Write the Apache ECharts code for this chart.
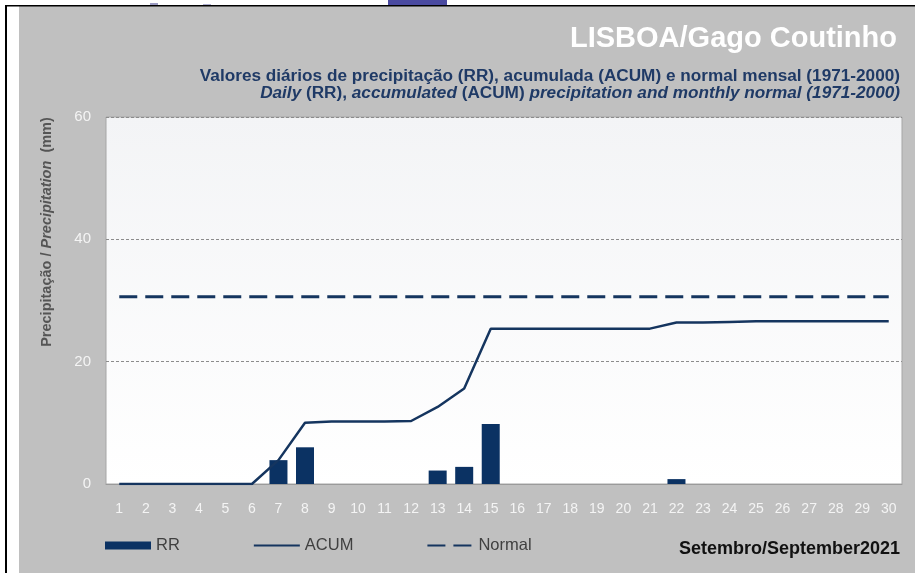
<!DOCTYPE html>
<html>
<head>
<meta charset="utf-8">
<script src="https://cdn.jsdelivr.net/npm/echarts@6/dist/echarts.min.js"></script>
<style>
  html, body { margin: 0; padding: 0; background: #ffffff; }
  #chart { width: 915px; height: 573px; }
</style>
</head>
<body>
<div id="chart"></div>
<script>
// dias do mes
var days = [];
for (var d = 1; d <= 30; d++) days.push(String(d));

// precipitacao diaria (mm)
var rrValues = [null, null, null, null, null, null, 3.9, 6.0, null, null,
                null, null, 2.2, 2.8, 9.8, null, null, null, null, null,
                null, 0.8, null, null, null, null, null, null, null, null];
// acumulada (mm)
var acumValues = [0, 0, 0, 0, 0, 0, 3.9, 10.0, 10.2, 10.2,
                  10.2, 10.3, 12.6, 15.6, 25.4, 25.4, 25.4, 25.4, 25.4, 25.4,
                  25.4, 26.4, 26.4, 26.5, 26.6, 26.6, 26.6, 26.6, 26.6, 26.6];
// normal mensal 1971-2000
var normalValues = [30.6, 30.6, 30.6, 30.6, 30.6, 30.6, 30.6, 30.6, 30.6, 30.6,
                    30.6, 30.6, 30.6, 30.6, 30.6, 30.6, 30.6, 30.6, 30.6, 30.6,
                    30.6, 30.6, 30.6, 30.6, 30.6, 30.6, 30.6, 30.6, 30.6, 30.6];
var yTicks = [0, 20, 40, 60];

var navy = "#0b3263";
var font = "'Liberation Sans', Arial, sans-serif";

var chart = echarts.init(document.getElementById("chart"));

var option = {
    backgroundColor: "#ffffff",
    animation: false,
    textStyle: { fontFamily: font },
    title: [{
        text: "LISBOA/Gago Coutinho",
        right: 13,
        top: 19,
        textStyle: { color: "#ffffff", fontSize: 29, fontWeight: "bold", fontFamily: font }
    }, {
        text: "Valores diários de precipitação (RR), acumulada (ACUM) e normal mensal (1971-2000)",
        right: 10,
        top: 63,
        textStyle: { color: "#1f3a66", fontSize: 17.2, fontWeight: "bold", fontFamily: font }
    }, {
        text: "{i|Daily} (RR), {i|accumulated} (ACUM) {i|precipitation and monthly normal (1971-2000)}",
        right: 10,
        top: 80,
        textStyle: {
            color: "#1f3a66", fontSize: 17.2, fontWeight: "bold", fontFamily: font,
            rich: { i: { color: "#1f3a66", fontSize: 17.2, fontWeight: "bold", fontStyle: "italic", fontFamily: font } }
        }
    }, {
        text: "Setembro/September2021",
        right: 10,
        top: 535,
        textStyle: { color: "#111111", fontSize: 18, fontWeight: "bold", fontFamily: font }
    }],
    graphic: [
        // painel cinzento
        { type: "rect", z: -10, shape: { x: 19, y: 6, width: 896, height: 567 }, style: { fill: "#c0c0c0" } },
        { type: "rect", z: -9, shape: { x: 5, y: 5, width: 910, height: 1.5 }, style: { fill: "#000000" } },
        { type: "rect", z: -9, shape: { x: 5, y: 5, width: 2, height: 568 }, style: { fill: "#000000" } },
        { type: "rect", z: -9, shape: { x: 150, y: 3, width: 8, height: 2 }, style: { fill: "#9c9cc4" } },
        { type: "rect", z: -9, shape: { x: 203, y: 4, width: 8, height: 1 }, style: { fill: "#b0b0d0" } },
        { type: "rect", z: -9, shape: { x: 388, y: 0, width: 59, height: 5 }, style: { fill: "#4a4aa0" } },
        {
            type: "text",
            x: 47,
            y: 232,
            rotation: Math.PI / 2,
            style: {
                text: "Precipitação / {i|Precipitation}  (mm)",
                fill: "#555555",
                font: "bold 14.5px " + font,
                align: "center",
                verticalAlign: "middle",
                rich: { i: { fontStyle: "italic", fontWeight: "bold", fontSize: 14.5, fill: "#555555", fontFamily: font } }
            }
        }
    ],
    legend: {
        left: 105,
        top: 537,
        padding: 0,
        itemWidth: 46,
        itemHeight: 8,
        itemGap: 73,
        textStyle: { color: "#404040", fontSize: 16.5, fontFamily: font },
        data: [
            { name: "RR", icon: "rect" },
            { name: "ACUM", itemStyle: { opacity: 0 } },
            { name: "Normal", itemStyle: { opacity: 0 } }
        ]
    },
    grid: {
        left: 106,
        right: 13,
        top: 117,
        bottom: 89,
        show: true,
        borderColor: "#a6a6a6",
        borderWidth: 1,
        backgroundColor: {
            type: "linear", x: 0, y: 0, x2: 0, y2: 1,
            colorStops: [{ offset: 0, color: "#f3f4f6" }, { offset: 1, color: "#ffffff" }]
        }
    },
    xAxis: {
        type: "category",
        data: days,
        boundaryGap: true,
        axisLine: { lineStyle: { color: "#9a9a9a" } },
        axisTick: { inside: true, length: 4, lineStyle: { color: "#9a9a9a" } },
        axisLabel: { color: "#f4f4f4", fontSize: 14, margin: 18, interval: 0 }
    },
    yAxis: {
        type: "value",
        min: yTicks[0],
        max: yTicks[yTicks.length - 1],
        interval: 20,
        axisLine: { show: false },
        axisTick: { show: false },
        axisLabel: { color: "#f4f4f4", fontSize: 15, margin: 15 },
        splitLine: { lineStyle: { color: "#8c8c8c", type: [3, 2], width: 1 } }
    },
    series: [{
        name: "RR",
        type: "bar",
        data: rrValues,
        barWidth: 18,
        itemStyle: { color: navy },
        z: 3
    }, {
        name: "ACUM",
        type: "line",
        data: acumValues,
        symbol: "none",
        lineStyle: { color: "#15355f", width: 2.5 },
        itemStyle: { color: "#15355f" },
        z: 4
    }, {
        name: "Normal",
        type: "line",
        data: normalValues,
        symbol: "none",
        lineStyle: { color: "#15355f", width: 3, type: [18, 8] },
        itemStyle: { color: "#15355f" },
        z: 4
    }]
};

chart.setOption(option);
</script>
</body>
</html>
